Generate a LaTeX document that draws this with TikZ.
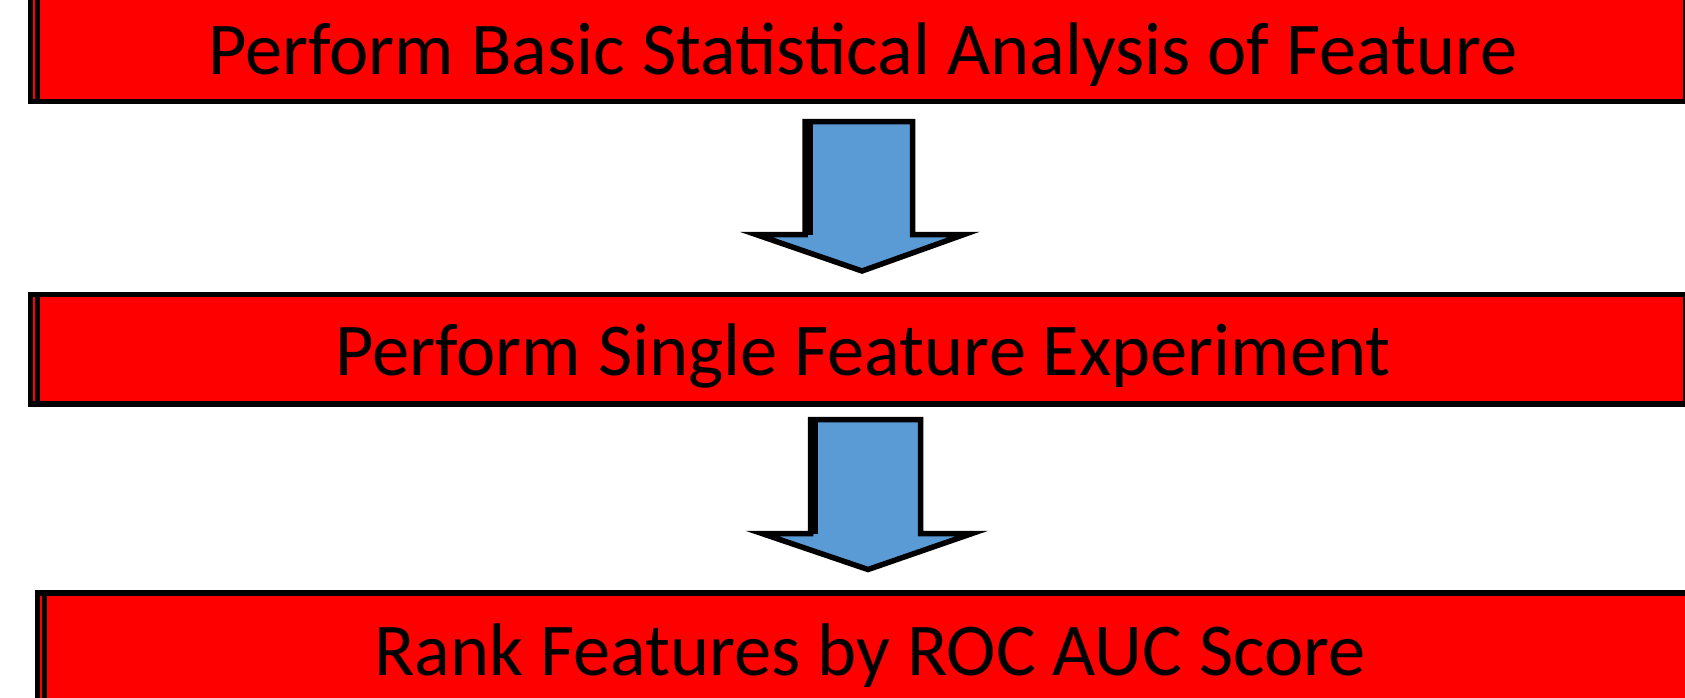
\documentclass[tikz,border=0pt]{standalone}
\usepackage{fontspec}
\setmainfont{Carlito}
\definecolor{boxred}{RGB}{255,0,0}
\definecolor{arrowblue}{RGB}{91,155,213}
\tikzset{
  stepbox/.style={draw=black, fill=boxred, line width=5.5pt},
  edgeline/.style={draw=black, line width=5.5pt},
  blockarrow/.style={draw=black, fill=arrowblue, line width=5.5pt, line join=miter, miter limit=12},
  label/.style={font=\fontsize{74.5}{89}\selectfont, anchor=base, inner sep=0pt, text=black},
}
\begin{document}
\begin{tikzpicture}[x=1pt, y=-1pt]
  \useasboundingbox (0,0) rectangle (1685,697);

  % process boxes (each with a second rule along its left side)
  \path[stepbox] (30.5,-20) rectangle (1686,101.5);
  \path[edgeline] (37.5,-20) -- (37.5,101.5);
  \path[stepbox] (30.5,294.5) rectangle (1686,404);
  \path[edgeline] (37.5,294.5) -- (37.5,404);
  \path[stepbox] (37.5,593) rectangle (1690,720);
  \path[edgeline] (44.5,593) -- (44.5,720);

  % step labels
  \node[label] (s1) at (863,74) {Perform Basic Statistical Analysis of Feature};
  \node[label] (s2) at (863,375) {Perform Single Feature Experiment};
  \node[label] (s3) at (870,675) {Rank Features by ROC AUC Score};

  % block arrows between the steps
  \path[blockarrow] (805,121.5) -- (912.5,121.5) -- (912.5,234.5) -- (964,234.5)
        -- (862,271) -- (756,234.5) -- (805,234.5) -- cycle;
  \path[edgeline] (810,121.5) -- (810,234.5);
  \path[blockarrow] (810.5,419.5) -- (920.5,419.5) -- (920.5,533.5) -- (972,533.5)
        -- (868,569.5) -- (762,533.5) -- (810.5,533.5) -- cycle;
  \path[edgeline] (815.5,419.5) -- (815.5,533.5);
\end{tikzpicture}
\end{document}
